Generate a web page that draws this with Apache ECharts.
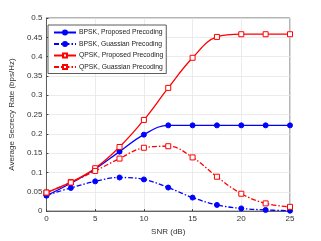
<!DOCTYPE html>
<html><head><meta charset="utf-8">
<script src="https://cdn.jsdelivr.net/npm/echarts@6/dist/echarts.min.js"></script>
<style>html,body{margin:0;padding:0;background:#fff}#c{width:321px;height:241px}</style>
</head><body><div id="c"></div>
<script>
const snr = [0, 2.5, 5, 7.5, 10, 12.5, 15, 17.5, 20, 22.5, 25];
const bpskProposed = [0.040, 0.072, 0.109, 0.154, 0.198, 0.222, 0.222, 0.222, 0.222, 0.222, 0.222];
const bpskGaussian = [0.041, 0.060, 0.077, 0.087, 0.082, 0.061, 0.035, 0.016, 0.007, 0.003, 0.001];
const qpskProposed = [0.048, 0.075, 0.111, 0.166, 0.236, 0.319, 0.397, 0.451, 0.458, 0.458, 0.458];
const qpskGaussian = [0.048, 0.074, 0.104, 0.136, 0.164, 0.168, 0.139, 0.089, 0.045, 0.020, 0.011];
const names = ['BPSK, Proposed Precoding', 'BPSK, Guassian Precoding', 'QPSK, Proposed Precoding', 'QPSK, Guassian Precoding'];
const xTicks = [0, 5, 10, 15, 20, 25];
const yTicks = [0, 0.05, 0.1, 0.15, 0.2, 0.25, 0.3, 0.35, 0.4, 0.45, 0.5];

const font = 'Liberation Sans, Arial, sans-serif';
function pairs(v){ return snr.map((x,i)=>[x, v[i]]); }
function ser(name, data, color, dashed, symbol, filled){
  return {
    name, type:'line', data:pairs(data), smooth:0.4,
    symbol, symbolSize: 5,
    lineStyle:{color, width:1.3, type: dashed ? [5,2,1.5,2] : 'solid'},
    itemStyle:{color: filled?color:'#fff', borderColor:color, borderWidth:1},
    emphasis:{disabled:true}
  };
}
const chart = echarts.init(document.getElementById('c'));
chart.setOption({
  animation:false,
  textStyle:{fontFamily:font},
  grid:{left:41, right:31, top:18, bottom:26, show:true, borderColor:'#444', borderWidth:0.8},
  legend:{
    orient:'vertical', left:48, top:25, itemWidth:22, itemHeight:5, itemGap:4.5,
    padding:[4,3,3,5], borderColor:'#333', borderWidth:0.8, backgroundColor:'#fff',
    textStyle:{fontSize:6.8, color:'#222', fontFamily:font, padding:[0,0,0,-2]},
    data:names
  },
  xAxis:{
    type:'value', min:0, max:25, interval:5,
    name:'SNR (dB)', nameLocation:'middle', nameGap:15,
    nameTextStyle:{fontSize:8, color:'#333'},
    axisLine:{lineStyle:{color:'#444', width:0.8}},
    axisTick:{inside:true, length:2, lineStyle:{color:'#444'}},
    axisLabel:{fontSize:8, color:'#333', margin:4, formatter:v=>xTicks.includes(v)?String(v):''},
    splitLine:{show:true, lineStyle:{color:'#e6e6e6', width:0.8}}
  },
  yAxis:{
    type:'value', min:0, max:0.5, interval:0.05,
    name:'Average Secrecy Rate (bps/Hz)', nameLocation:'middle', nameGap:21,
    nameTextStyle:{fontSize:8, color:'#333'},
    axisLine:{show:true, lineStyle:{color:'#444', width:0.8}},
    axisTick:{show:true, inside:true, length:2, lineStyle:{color:'#444'}},
    axisLabel:{fontSize:8, color:'#333', margin:4, formatter:v=>{const r=Math.round(v*100)/100; return yTicks.some(t=>Math.abs(t-r)<1e-9)?String(r):'';}},
    splitLine:{show:true, lineStyle:{color:'#e6e6e6', width:0.8}}
  },
  series:[
    ser(names[0], bpskProposed, '#0000ff', false, 'circle', true),
    ser(names[1], bpskGaussian, '#0000ff', true, 'circle', true),
    ser(names[2], qpskProposed, '#ff0000', false, 'rect', false),
    ser(names[3], qpskGaussian, '#ff0000', true, 'rect', false)
  ]
});
</script></body></html>
